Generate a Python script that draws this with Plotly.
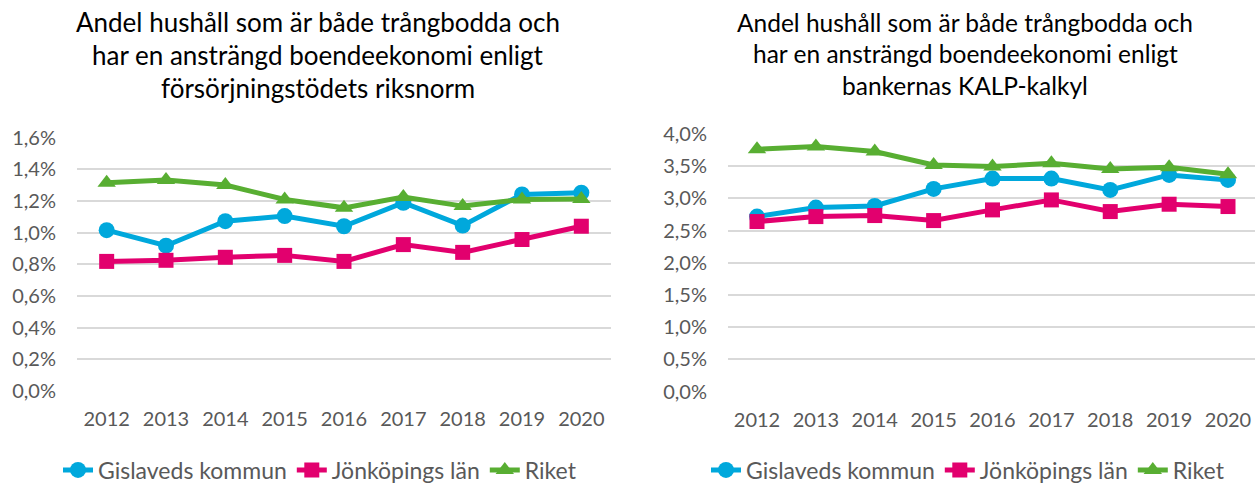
import plotly.graph_objects as go

years = ["2012", "2013", "2014", "2015", "2016", "2017", "2018", "2019", "2020"]

# Left chart: försörjningsstödets riksnorm (%)
left_gislaved = [1.015, 0.917, 1.072, 1.104, 1.040, 1.188, 1.044, 1.241, 1.252]
left_jonkoping = [0.818, 0.825, 0.844, 0.856, 0.818, 0.924, 0.875, 0.956, 1.040]
left_riket = [1.315, 1.332, 1.300, 1.209, 1.156, 1.224, 1.167, 1.209, 1.212]

# Right chart: bankernas KALP-kalkyl (%)
right_gislaved = [2.717, 2.857, 2.883, 3.147, 3.307, 3.307, 3.131, 3.364, 3.287]
right_jonkoping = [2.640, 2.717, 2.733, 2.655, 2.821, 2.976, 2.795, 2.909, 2.873]
right_riket = [3.763, 3.804, 3.727, 3.520, 3.494, 3.545, 3.457, 3.483, 3.375]

series_names = ["Gislaveds kommun", "Jönköpings län", "Riket"]
colors = ["#00A8DC", "#E2006E", "#58AE32"]
symbols = ["circle", "square", "triangle-up"]

left_title_lines = ["Andel hushåll som är både trångbodda och",
                    "har en ansträngd boendeekonomi enligt",
                    "försörjningstödets riksnorm"]
right_title_lines = ["Andel hushåll som är både trångbodda och",
                     "har en ansträngd boendeekonomi enligt",
                     "bankernas KALP-kalkyl"]

FONT = "Lato"
GRAY = "#595959"

# Page body margin is removed (post_script), so the figure fills the window.
OFF = 0
W, H = 1255, 486


def px_x(x):
    return min(1.0, max(0.0, (x - OFF) / W))


def px_y(y):
    return min(1.0, max(0.0, 1 - (y - OFF) / H))


fig = go.Figure()

for vals, name, col, sym in zip([left_gislaved, left_jonkoping, left_riket], series_names, colors, symbols):
    fig.add_trace(go.Scatter(
        x=years, y=vals, name=name, mode="lines+markers",
        line=dict(color=col, width=5),
        marker=dict(symbol=sym, size=16 if sym != "square" else 15, color=col),
        xaxis="x", yaxis="y", legend="legend", cliponaxis=False,
    ))

for vals, name, col, sym in zip([right_gislaved, right_jonkoping, right_riket], series_names, colors, symbols):
    fig.add_trace(go.Scatter(
        x=years, y=vals, name=name, mode="lines+markers",
        line=dict(color=col, width=5),
        marker=dict(symbol=sym, size=16 if sym != "square" else 15, color=col),
        xaxis="x2", yaxis="y2", legend="legend2", cliponaxis=False,
    ))

axis_common_x = dict(
    type="category", showgrid=False, zeroline=False, showline=False,
    tickfont=dict(family=FONT, size=20, color=GRAY), ticks="",
    ticklabelstandoff=14, automargin=False,
)
axis_common_y = dict(
    showgrid=True, gridcolor="#D9D9D9", gridwidth=2, zeroline=False, showline=False,
    tickfont=dict(family=FONT, size=20, color=GRAY), ticks="",
    ticksuffix="%", tickformat=".1f", ticklabelstandoff=20, automargin=False,
)

# right plot: 2012 at x~757, 2020 at x~1228 (screen px); plot runs to the window edge
r_left, r_2012, r_2020 = 728, 757, 1228
r_step = (r_2020 - r_2012) / 8
r_start = -(r_2012 - r_left) / r_step
r_end = r_start + ((OFF + W) - r_left) / r_step

annotations = []
for txt, yc in zip(left_title_lines, [22, 55, 88]):
    annotations.append(dict(text=txt, x=px_x(317.5), xref="paper", y=px_y(yc), yref="paper",
                            yanchor="middle", xanchor="center", showarrow=False,
                            font=dict(family=FONT, size=26, color="black")))
for txt, yc in zip(right_title_lines, [22, 53, 86]):
    annotations.append(dict(text=txt, x=px_x(965), xref="paper", y=px_y(yc), yref="paper",
                            yanchor="middle", xanchor="center", showarrow=False,
                            font=dict(family=FONT, size=24.5, color="black")))

fig.update_layout(
    width=W, height=H,
    margin=dict(l=0, r=0, t=0, b=0, autoexpand=False),
    paper_bgcolor="white", plot_bgcolor="white",
    separators=", ",
    font=dict(family=FONT, color=GRAY),
    showlegend=True,
    xaxis=dict(domain=[px_x(77), px_x(611)], anchor="y", range=[-0.5, 8.5], **axis_common_x),
    yaxis=dict(domain=[px_y(391), px_y(137.5)], anchor="x", range=[0, 1.6], dtick=0.2, **axis_common_y),
    xaxis2=dict(domain=[px_x(r_left), 1.0], anchor="y2", range=[r_start, r_end], **axis_common_x),
    yaxis2=dict(domain=[px_y(391.5), px_y(134)], anchor="x2", range=[0, 4.0], dtick=0.5, **axis_common_y),
    legend=dict(orientation="h", x=px_x(320), xanchor="center", y=px_y(470), yanchor="middle",
                font=dict(family=FONT, size=23, color=GRAY), itemwidth=30,
                bgcolor="rgba(0,0,0,0)", tracegroupgap=0),
    legend2=dict(orientation="h", x=px_x(968), xanchor="center", y=px_y(470), yanchor="middle",
                 font=dict(family=FONT, size=23, color=GRAY), itemwidth=30,
                 bgcolor="rgba(0,0,0,0)", tracegroupgap=0),
    annotations=annotations,
)

fig.write_html(
    "out.html",
    config={"displayModeBar": False},
    post_script="document.body.style.margin='0';document.body.style.overflow='hidden';",
)
